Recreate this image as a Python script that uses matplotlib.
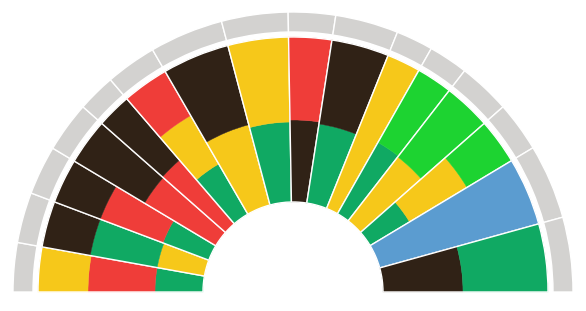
import numpy as np
import matplotlib
matplotlib.use('Agg')
import matplotlib.pyplot as plt
from matplotlib.patches import Wedge

# angular share of each wedge, left to right
shares = [10.2, 10.5, 10.2, 10.5, 7.9, 10.6, 15.3, 13.8, 9.8, 13.1, 7.7, 8.2, 10.8, 10.4, 15.5, 15.5]

# radial stacks, inner -> outer
stack_colors = [
    ['G', 'R', 'Y'],
    ['Y', 'G', 'D'],
    ['G', 'R', 'D'],
    ['R', 'D'],
    ['R', 'D'],
    ['G', 'Y', 'R'],
    ['Y', 'D'],
    ['G', 'Y'],
    ['D', 'R'],
    ['G', 'D'],
    ['Y'],
    ['G', 'L'],
    ['Y', 'L'],
    ['G', 'Y', 'L'],
    ['B'],
    ['D', 'G'],
]
stack_values = [
    [48, 67, 50],
    [48, 68, 49],
    [49, 67, 49],
    [83, 82],
    [84, 81],
    [58, 56, 51],
    [83, 82],
    [80, 85],
    [82, 83],
    [80, 85],
    [165],
    [82, 83],
    [81, 84],
    [46, 67, 52],
    [165],
    [80, 85],
]

palette = {'Y': '#F6C81A', 'R': '#EF3D39', 'D': '#302216', 'G': '#10A963',
           'L': '#1DD331', 'B': '#5B9CD0'}
gray = '#D3D2D0'

r_in = 90
r_out = 255
ring_in, ring_out = 260, 280

fig = plt.figure(figsize=(5.86, 3.11), dpi=100)
ax = fig.add_axes([0, 0, 1, 1])
ax.set_xlim(-293, 293)
ax.set_ylim(-19, 292)
ax.axis('off')

edges = np.concatenate([[0], np.cumsum(shares)])
edges = edges / edges[-1] * 180.0

for i in range(len(shares)):
    t1 = 180 - edges[i + 1]
    t2 = 180 - edges[i]
    vals = np.array(stack_values[i], dtype=float)
    vals = vals / vals.sum() * (r_out - r_in)
    r = r_in
    for c, v in zip(stack_colors[i], vals):
        ax.add_patch(Wedge((0, 0), r + v, t1, t2, width=v, facecolor=palette[c],
                           edgecolor=palette[c], lw=0.3))
        r += v
    # white separators
    ax.add_patch(Wedge((0, 0), r_out, t1, t2, width=r_out - r_in, facecolor='none',
                       edgecolor='white', lw=1.0))
    # outer grey ring
    ax.add_patch(Wedge((0, 0), ring_out, t1, t2, width=ring_out - ring_in,
                       facecolor=gray, edgecolor='white', lw=1.0))

fig.savefig('out.png', dpi=100)
